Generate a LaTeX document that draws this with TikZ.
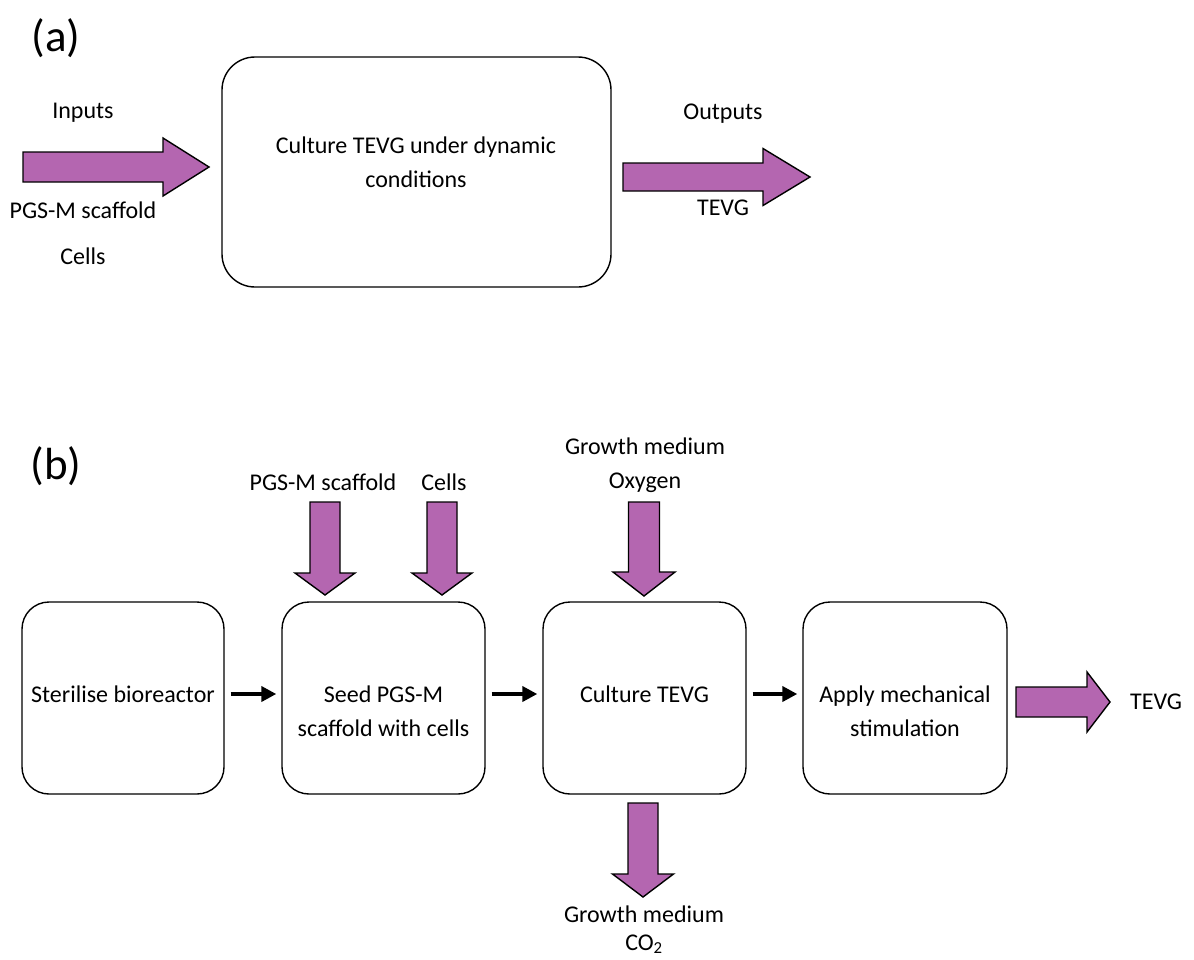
\documentclass[tikz,border=0pt]{standalone}
\usepackage{fontspec}
\setmainfont{Carlito}
\usetikzlibrary{arrows.meta}
\definecolor{arrowpurple}{RGB}{180,102,176}
\begin{document}
\begin{tikzpicture}[x=1pt,y=-1pt,
  lbl/.style={font=\fontsize{24}{34}\selectfont, inner sep=0pt, align=center, anchor=base},
  panel/.style={font=\fontsize{45}{50}\selectfont, inner sep=0pt},
  procbox/.style={draw, line width=1.4pt, rounded corners=27pt, inner sep=0pt},
  flow/.style={-{Triangle[length=15pt,width=15pt]}, line width=4.4pt, shorten <=6pt, shorten >=5pt},
  matflow/.style={draw=black, line width=1.4pt, fill=arrowpurple, line join=miter},
  % block arrow: total length / head length / shaft half-width / head half-width
  pics/blockarrow/.style args={#1/#2/#3/#4}{
    code={\draw[matflow] (0,-#3) -- ({#1-#2},-#3) -- ({#1-#2},-#4) -- (#1,0)
          -- ({#1-#2},#4) -- ({#1-#2},#3) -- (0,#3) -- cycle;}
  },
]
\useasboundingbox (0,0) rectangle (1194,959);

% ---------------- (a) overview ----------------
\node[panel] (pa) at (56,38) {(a)};
\node[procbox, rounded corners=33pt, minimum width=389pt, minimum height=230pt] (main) at (416.5,172) {};
% multi-line labels are placed by the baseline of their last line
\node[lbl] (maintext) at (416,187) {Culture TEVG under dynamic\\conditions};

\pic at (23,167) {blockarrow=186/46/15/29};
\node[lbl] (inlbl) at (83,118) {Inputs};
\node[lbl] (scafA) at (83,218) {PGS-M scaffold};
\node[lbl] (cellsA) at (83,264) {Cells};

\pic at (623,177) {blockarrow=187/47/14/28.5};
\node[lbl] (outlbl) at (723,119) {Outputs};
\node[lbl] (tevgA) at (723,215) {TEVG};

% ---------------- (b) process steps ----------------
\node[panel] (pb) at (56,466) {(b)};

\node[procbox, minimum width=202pt, minimum height=192pt] (b1) at (123,698) {};
\node[procbox, minimum width=203pt, minimum height=192pt] (b2) at (383.5,698) {};
\node[procbox, minimum width=203pt, minimum height=192pt] (b3) at (644.5,698) {};
\node[procbox, minimum width=204pt, minimum height=192pt] (b4) at (905,698) {};

\node[lbl] (t1) at (123,702) {Sterilise bioreactor};
\node[lbl] (t2) at (383.5,736) {Seed PGS-M\\scaffold with cells};
\node[lbl] (t3) at (644.5,702) {Culture TEVG};
\node[lbl] (t4) at (905,736) {Apply mechanical\\stimulation};

\draw[flow] ([yshift=4pt]b1.east) -- ([yshift=4pt]b2.west);
\draw[flow] ([yshift=4pt]b2.east) -- ([yshift=4pt]b3.west);
\draw[flow] ([yshift=4pt]b3.east) -- ([yshift=4pt]b4.west);

% material inputs and outputs
\pic[rotate=-90] at (325,502) {blockarrow=93/22/15/30};
\pic[rotate=-90] at (442,502) {blockarrow=93/22/15/30};
\pic[rotate=-90] at (644,502) {blockarrow=94/24/15.5/31};
\pic[rotate=-90] at (643,803) {blockarrow=94/23/15/30.5};
\pic at (1016,702) {blockarrow=94/23/15/30};

\node[lbl] (scafB) at (323,490) {PGS-M scaffold};
\node[lbl] (cellsB) at (444,490) {Cells};
\node[lbl] (gmIn) at (645,488) {Growth medium\\Oxygen};
\node[lbl] (gmOut) at (644,950) {Growth medium\\[-6pt]CO\textsubscript{2}};
\node[lbl, anchor=base west] (tevgB) at (1130,709) {TEVG};
\end{tikzpicture}
\end{document}
